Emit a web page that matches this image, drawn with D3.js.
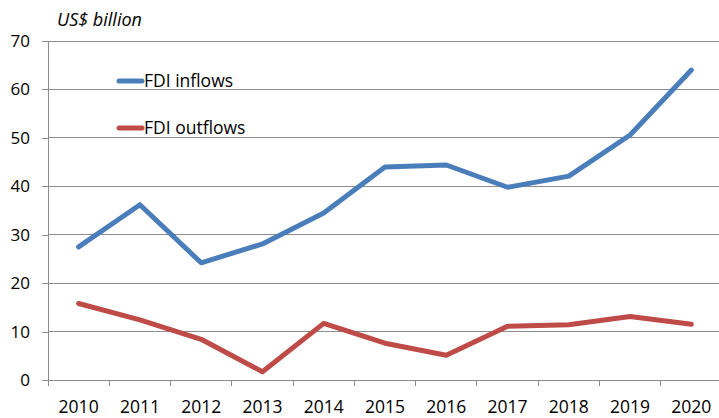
<!DOCTYPE html>
<html>
<head>
<meta charset="utf-8">
<script src="https://cdn.jsdelivr.net/npm/d3@7"></script>
<style>
  html, body { margin: 0; padding: 0; background: #fff; }
  svg { display: block; }
  text { font-family: "Open Sans", sans-serif; fill: #000; }
</style>
</head>
<body>
<svg id="chart" width="719" height="418"></svg>
<script>
const years = ["2010","2011","2012","2013","2014","2015","2016","2017","2018","2019","2020"];
const inflows = [27.5, 36.2, 24.2, 28.1, 34.5, 44.0, 44.4, 39.8, 42.1, 50.6, 64.0];
const outflows = [15.8, 12.4, 8.4, 1.7, 11.7, 7.6, 5.1, 11.1, 11.4, 13.1, 11.5];
const yTicks = [0, 10, 20, 30, 40, 50, 60, 70];
const seriesNames = ["FDI inflows", "FDI outflows"];
const seriesColors = ["#4a7ebb", "#be4b48"];

const svg = d3.select("#chart");
const plotLeft = 48, plotRight = 722, plotTop = 41, plotBottom = 380;

const x = d3.scaleBand().domain(years).range([plotLeft, plotRight]).padding(0);
const y = d3.scaleLinear().domain([0, 70]).range([plotBottom, plotTop]);

// horizontal gridlines
svg.append("g")
  .selectAll("line")
  .data(yTicks.filter(d => d > 0))
  .join("line")
  .attr("x1", plotLeft).attr("x2", 719)
  .attr("y1", d => y(d)).attr("y2", d => y(d))
  .attr("stroke", "#8c8c8c").attr("stroke-width", 1)
  .attr("shape-rendering", "crispEdges");

// y axis
const yAxis = svg.append("g")
  .attr("transform", `translate(${plotLeft},0)`)
  .call(d3.axisLeft(y).tickValues(yTicks).tickSize(6).tickPadding(12).tickFormat(d3.format("d")));
yAxis.select(".domain").attr("stroke", "#8c8c8c").attr("shape-rendering", "crispEdges");
yAxis.selectAll(".tick line").attr("stroke", "#8c8c8c").attr("shape-rendering", "crispEdges");
yAxis.selectAll(".tick text").style("font-size", "17px").style("font-family", "'Open Sans', sans-serif").attr("fill", "#000");

// x axis with ticks at category boundaries
const xAxisG = svg.append("g").attr("transform", `translate(0,${plotBottom})`);
xAxisG.append("line")
  .attr("x1", plotLeft - 6).attr("x2", 719)
  .attr("y1", 0).attr("y2", 0)
  .attr("stroke", "#8c8c8c").attr("shape-rendering", "crispEdges");
xAxisG.selectAll("line.tk")
  .data(years)
  .join("line")
  .attr("class", "tk")
  .attr("x1", d => x(d)).attr("x2", d => x(d))
  .attr("y1", 0).attr("y2", 6)
  .attr("stroke", "#8c8c8c").attr("shape-rendering", "crispEdges");
xAxisG.selectAll("text")
  .data(years)
  .join("text")
  .attr("x", d => x(d) + x.bandwidth() / 2)
  .attr("y", 33)
  .attr("text-anchor", "middle")
  .style("font-size", "17.5px")
  .text(d => d);

// unit label
svg.append("text")
  .attr("x", 57).attr("y", 26)
  .style("font-size", "18px")
  .style("font-style", "italic")
  .text("US$ billion");

// series lines
const line = d3.line()
  .x((d, i) => x(years[i]) + x.bandwidth() / 2)
  .y(d => y(d));

[inflows, outflows].forEach((s, k) => {
  svg.append("path")
    .datum(s)
    .attr("d", line)
    .attr("fill", "none")
    .attr("stroke", seriesColors[k])
    .attr("stroke-width", 5)
    .attr("stroke-linejoin", "round")
    .attr("stroke-linecap", "round");
});

// legend
const legend = svg.append("g");
seriesNames.forEach((name, k) => {
  const ly = 81 + k * 47;
  legend.append("line")
    .attr("x1", 119).attr("x2", 142)
    .attr("y1", ly).attr("y2", ly)
    .attr("stroke", seriesColors[k])
    .attr("stroke-width", 5)
    .attr("stroke-linecap", "round");
  legend.append("text")
    .attr("x", 144).attr("y", ly + 6)
    .style("font-size", "17.5px")
    .text(name);
});
</script>
</body>
</html>
